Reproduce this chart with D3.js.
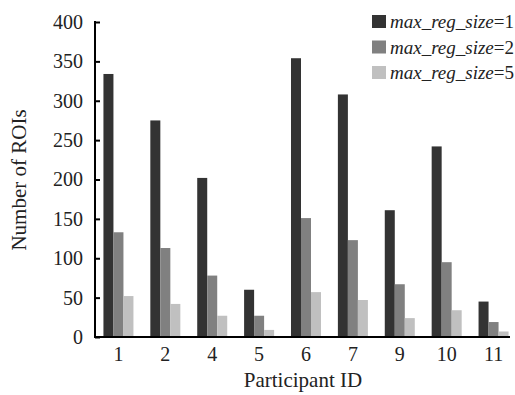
<!DOCTYPE html>
<html>
<head>
<meta charset="utf-8">
<script src="https://cdn.jsdelivr.net/npm/d3@7"></script>
<style>
  body { margin: 0; background: #fff; }
  svg text { font-family: 'Liberation Serif', 'DejaVu Serif', serif; fill: #222; }
</style>
</head>
<body>
<div id="chart"></div>
<script>
const participants = ['1', '2', '4', '5', '6', '7', '9', '10', '11'];
const seriesKeys = ['s1', 's2', 's5'];
const seriesLabels = ['1', '2', '5'];
const size1 = [334, 275, 202, 60, 354, 308, 161, 242, 45];
const size2 = [133, 113, 78, 27, 151, 123, 67, 95, 19];
const size5 = [52, 42, 27, 9, 57, 47, 24, 34, 7];
const yTicks = [0, 50, 100, 150, 200, 250, 300, 350, 400];
const colors = ['#333333', '#808080', '#c0c0c0'];

const data = participants.map((p, i) => ({ id: p, s1: size1[i], s2: size2[i], s5: size5[i] }));

const svgWidth = 515;
const svgHeight = 395;
const margin = { top: 22, left: 95, bottom: 58, right: 0 };

const svg = d3
    .select('#chart')
    .append('svg')
    .attr('width', svgWidth)
    .attr('height', svgHeight);

const x = d3
    .scaleBand()
    .domain(participants)
    .range([margin.left, 517])
    .paddingInner(0.36)
    .paddingOuter(0.18);

const xSub = d3
    .scaleBand()
    .domain(seriesKeys)
    .range([0, x.bandwidth()]);

const y = d3.scaleLinear().domain([0, 400]).range([svgHeight - margin.bottom, margin.top]);

const z = d3.scaleOrdinal().domain(seriesKeys).range(colors);

// bars
svg.append('g')
    .selectAll('g')
    .data(data)
    .enter()
    .append('g')
    .attr('transform', d => `translate(${x(d.id)},0)`)
    .selectAll('rect')
    .data(d => seriesKeys.map(k => ({ key: k, value: d[k] })))
    .enter()
    .append('rect')
    .attr('x', d => xSub(d.key))
    .attr('width', xSub.bandwidth())
    .attr('y', d => y(d.value))
    .attr('height', d => y(0) - y(d.value))
    .attr('fill', d => z(d.key));

// y axis, ticks pointing inward
const yAxis = svg
    .append('g')
    .attr('transform', `translate(${margin.left}, 0)`)
    .call(d3.axisRight(y).tickValues(yTicks).tickSize(5).tickFormat(d3.format('d')));
yAxis.select('.domain').remove();
yAxis.selectAll('line').attr('stroke', '#000').attr('stroke-width', 2);
yAxis.selectAll('text')
    .attr('x', -12)
    .attr('text-anchor', 'end')
    .style('font-size', '20px');
svg.append('line')
    .attr('x1', margin.left).attr('x2', margin.left)
    .attr('y1', y(400) - 1).attr('y2', y(0) + 1)
    .attr('stroke', '#000').attr('stroke-width', 2);

// x axis
const xAxis = svg
    .append('g')
    .attr('transform', `translate(0, ${y(0)})`)
    .call(d3.axisBottom(x).tickSize(0).tickPadding(10));
xAxis.select('.domain').remove();
xAxis.selectAll('text').style('font-size', '20px');
svg.append('line')
    .attr('x1', margin.left - 1).attr('x2', 510)
    .attr('y1', y(0)).attr('y2', y(0))
    .attr('stroke', '#000').attr('stroke-width', 2);

// axis titles
svg.append('text')
    .attr('x', 303)
    .attr('y', 387)
    .attr('text-anchor', 'middle')
    .style('font-size', '21px')
    .text('Participant ID');

svg.append('text')
    .attr('transform', 'translate(26, 180) rotate(-90)')
    .attr('text-anchor', 'middle')
    .style('font-size', '21px')
    .text('Number of ROIs');

// legend
const legend = svg
    .append('g')
    .selectAll('g')
    .data(seriesKeys)
    .enter()
    .append('g')
    .attr('transform', (d, i) => `translate(372, ${15 + i * 25.5})`);

legend.append('rect')
    .attr('width', 14)
    .attr('height', 13)
    .attr('fill', d => z(d));

const lt = legend.append('text')
    .attr('x', 18)
    .attr('y', 13)
    .style('font-size', '19px');
lt.append('tspan').style('font-style', 'italic').text('max_reg_size');
lt.append('tspan').text((d, i) => '=' + seriesLabels[i]);
</script>
</body>
</html>
